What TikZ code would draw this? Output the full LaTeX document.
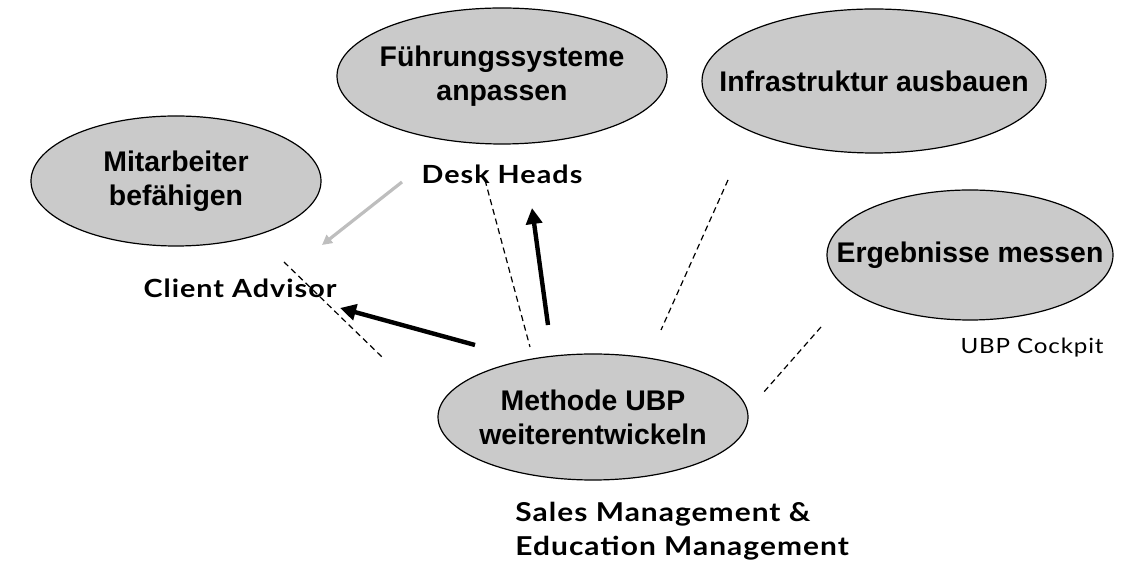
\documentclass[tikz,border=0pt]{standalone}
\usepackage{fontspec}
\setmainfont{Liberation Sans}
\newfontfamily\gillfont[FakeStretch=1.15,LetterSpace=4]{Lato}
\usetikzlibrary{shapes.geometric,arrows.meta}
\definecolor{ellfill}{RGB}{202,202,202}
\definecolor{lightarrow}{RGB}{190,190,190}
\begin{document}
\begin{tikzpicture}[x=0.5pt,y=-0.5pt,
  goal/.style={ellipse,draw=black,line width=0.6pt,fill=ellfill,inner sep=-40pt,
    font=\fontsize{14.2}{17}\selectfont\bfseries,align=center},
  role/.style={font=\gillfont\fontsize{12.5}{14}\selectfont\bfseries,inner sep=0pt},
  note/.style={font=\gillfont\fontsize{10.5}{12}\selectfont,inner sep=0pt},
  link/.style={line width=0.6pt,dash pattern=on 3pt off 2pt},
  push/.style={line width=2.2pt,-{Triangle[length=8pt,width=8pt]}},
  hint/.style={line width=1.6pt,draw=lightarrow,-{Triangle[length=5pt,width=5pt]}},
]
\useasboundingbox (0,0) rectangle (1128,565);

\node[goal,minimum width=145pt,minimum height=65pt] (mit) at (176,181) {Mitarbeiter\\befähigen};
\node[goal,minimum width=165pt,minimum height=68pt] (fue) at (502,76) {Führungssysteme\\anpassen};
\node[goal,minimum width=172pt,minimum height=72pt] (inf) at (874,81) {Infrastruktur ausbauen};
\node[goal,minimum width=143pt,minimum height=65pt] (erg) at (970,255) {Ergebnisse messen};
\node[goal,minimum width=155pt,minimum height=63pt] (met) at (593,417) {Methode UBP\\weiterentwickeln};

\node[role] (desk) at (502,174) {Desk Heads};
\node[role] (client) at (240,288) {Client Advisor};
\node[note] (cock) at (1032,348) {UBP Cockpit};
\node[role,anchor=north west,align=left,font=\gillfont\fontsize{13}{17}\selectfont\bfseries] (sales) at (515,502) {Sales Management \&\\Education Management};

\coordinate (a1s) at (475,345); \coordinate (a1e) at (340,308);
\coordinate (a2s) at (548,325); \coordinate (a2e) at (532,208);
\coordinate (a3s) at (402,182); \coordinate (a3e) at (322,245);
\draw[push] (a1s) -- (a1e);
\draw[push] (a2s) -- (a2e);
\draw[hint] (a3s) -- (a3e);

\coordinate (d1a) at (284,262); \coordinate (d1b) at (382,357);
\coordinate (d2a) at (485,180); \coordinate (d2b) at (530,347);
\coordinate (d3a) at (728,180); \coordinate (d3b) at (661,330);
\coordinate (d4a) at (821,327); \coordinate (d4b) at (763,393);
\draw[link] (d1a) -- (d1b);
\draw[link] (d2a) -- (d2b);
\draw[link] (d3a) -- (d3b);
\draw[link] (d4a) -- (d4b);
\end{tikzpicture}
\end{document}
